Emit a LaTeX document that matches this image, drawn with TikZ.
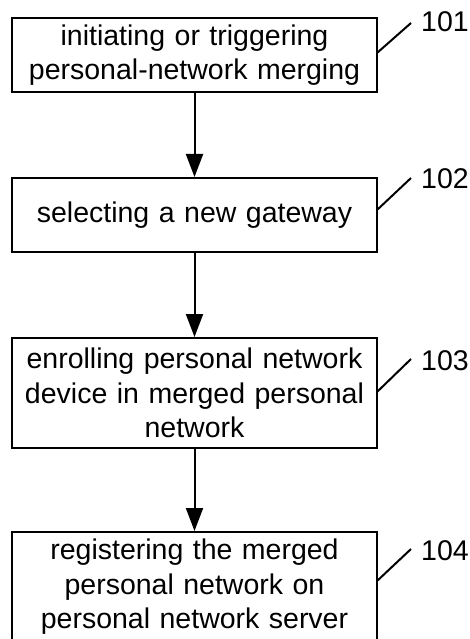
\documentclass[tikz,border=0pt]{standalone}
\usepackage{fontspec}
\setmainfont{Liberation Sans}
\usetikzlibrary{arrows.meta,calc}
\tikzset{
  stepbox/.style={draw=black, line width=2pt, minimum width=365pt, inner sep=0pt,
    align=center, text width=360pt, font=\fontsize{28.5}{34.5}\selectfont},
  flow/.style={line width=2pt, -{Triangle[width=17pt,length=23pt]}},
  leader/.style={line width=2pt},
  reflabel/.style={anchor=base west, inner sep=0pt, font=\fontsize{28.5}{34}\selectfont}
}
\begin{document}
\begin{tikzpicture}[x=1pt,y=-1pt]
\useasboundingbox (0,0) rectangle (470,639);
\node[stepbox, minimum height=74pt] (b1) at (194.5,55) {initiating or triggering\\personal-network merging};
\node[stepbox, minimum height=74pt] (b2) at (194.5,215) {selecting a new gateway};
\node[stepbox, minimum height=110pt] (b3) at (194.5,393) {enrolling personal network\\device in merged personal\\network};
\node[stepbox, minimum height=110pt] (b4) at (194.5,587) {registering the merged\\personal network on\\personal network server};
\draw[flow] (b1.south) -- (b2.north);
\draw[flow] (b2.south) -- (b3.north);
\draw[flow] (b3.south) -- (b4.north);
\node[reflabel] (l1) at (421,32) {101};
\node[reflabel] (l2) at (421,188) {102};
\node[reflabel] (l3) at (421,370) {103};
\node[reflabel] (l4) at (421,560) {104};
\coordinate (c1) at (377,53);
\coordinate (c2) at (377,210);
\coordinate (c3) at (377,392);
\coordinate (c4) at (377,581);
\draw[leader] (c1) -- ($(l1.base west)+(-10,-9)$);
\draw[leader] (c2) -- ($(l2.base west)+(-10,-10)$);
\draw[leader] (c3) -- ($(l3.base west)+(-10,-11)$);
\draw[leader] (c4) -- ($(l4.base west)+(-10,-11)$);
\end{tikzpicture}
\end{document}
